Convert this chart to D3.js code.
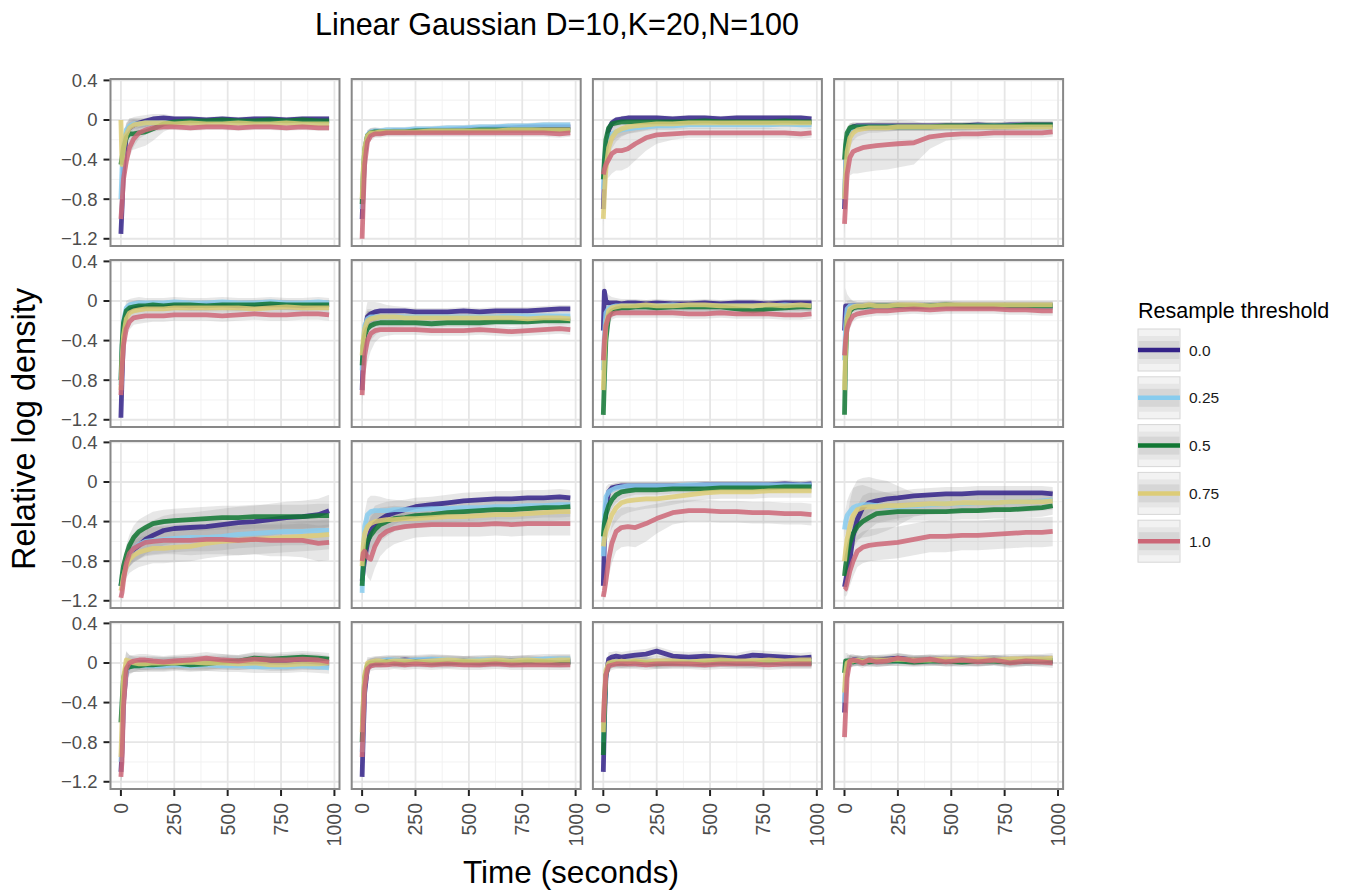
<!DOCTYPE html>
<html>
<head>
<meta charset="utf-8">
<script src="https://cdn.jsdelivr.net/npm/d3@7/dist/d3.min.js"></script>
<style>
  html, body { margin: 0; padding: 0; background: #ffffff; }
  svg { display: block; }
  text { font-family: "Liberation Sans", Arial, Helvetica, sans-serif; }
</style>
</head>
<body>
<svg id="chart" width="1345" height="895"></svg>
<script>
// Sample times (seconds) shared by every run
const times = [0, 5, 12, 25, 40, 60, 85, 115, 150, 200, 250, 325, 400, 475, 550, 625, 700, 775, 850, 925, 975];

// Resample thresholds, one series each
const thresholds = ["0.0", "0.25", "0.5", "0.75", "1.0"];

const yTicks = [0.4, 0, -0.4, -0.8, -1.2];
const xTicks = [0, 250, 500, 750, 1000];

// Mean relative log density per threshold (rows), one array per facet
const meanR1C1 = [
  [-1.15, -0.90, -0.50, -0.15, -0.08, -0.05, -0.03, -0.01, 0.01, 0.02, 0.01, 0.01, 0.00, 0.01, 0.00, 0.01, 0.01, 0.00, 0.01, 0.01, 0.01],
  [-0.80, -0.50, -0.25, -0.10, -0.06, -0.04, -0.04, -0.03, -0.03, -0.03, -0.03, -0.02, -0.03, -0.03, -0.02, -0.03, -0.03, -0.02, -0.03, -0.03, -0.04],
  [-0.45, -0.38, -0.28, -0.18, -0.14, -0.14, -0.13, -0.12, -0.09, -0.04, -0.02, -0.01, -0.01, 0.00, -0.01, -0.01, 0.00, -0.01, 0.00, -0.01, -0.01],
  [0.00, -0.45, -0.30, -0.15, -0.08, -0.05, -0.04, -0.03, -0.03, -0.03, -0.04, -0.03, -0.04, -0.04, -0.03, -0.04, -0.04, -0.03, -0.04, -0.04, -0.04],
  [-1.00, -0.85, -0.60, -0.42, -0.28, -0.19, -0.13, -0.10, -0.08, -0.07, -0.07, -0.08, -0.07, -0.07, -0.08, -0.07, -0.07, -0.08, -0.07, -0.08, -0.08]
];
const bandR1C1 = [
  [0.06, 0.08, 0.10, 0.10, 0.09, 0.08, 0.07, 0.06, 0.05, 0.04, 0.03, 0.03, 0.03, 0.03, 0.03, 0.03, 0.03, 0.03, 0.03, 0.03, 0.03],
  [0.05, 0.06, 0.07, 0.07, 0.06, 0.05, 0.04, 0.04, 0.03, 0.03, 0.03, 0.03, 0.03, 0.03, 0.03, 0.03, 0.03, 0.03, 0.03, 0.03, 0.03],
  [0.08, 0.10, 0.13, 0.15, 0.16, 0.16, 0.15, 0.14, 0.12, 0.08, 0.05, 0.03, 0.03, 0.03, 0.03, 0.03, 0.03, 0.03, 0.03, 0.03, 0.03],
  [0.05, 0.06, 0.07, 0.07, 0.06, 0.05, 0.04, 0.04, 0.03, 0.03, 0.03, 0.03, 0.03, 0.03, 0.03, 0.03, 0.03, 0.03, 0.03, 0.03, 0.03],
  [0.08, 0.10, 0.12, 0.12, 0.10, 0.08, 0.06, 0.05, 0.04, 0.03, 0.03, 0.03, 0.03, 0.03, 0.03, 0.03, 0.03, 0.03, 0.03, 0.03, 0.03]
];

const meanR1C2 = [
  [-1.00, -0.70, -0.35, -0.17, -0.13, -0.12, -0.12, -0.12, -0.11, -0.11, -0.11, -0.10, -0.10, -0.09, -0.09, -0.08, -0.08, -0.07, -0.07, -0.07, -0.07],
  [-0.90, -0.60, -0.30, -0.15, -0.12, -0.11, -0.11, -0.10, -0.10, -0.10, -0.09, -0.09, -0.08, -0.08, -0.07, -0.07, -0.06, -0.06, -0.05, -0.05, -0.05],
  [-0.85, -0.55, -0.30, -0.16, -0.13, -0.12, -0.12, -0.12, -0.12, -0.12, -0.11, -0.11, -0.11, -0.11, -0.10, -0.10, -0.10, -0.10, -0.10, -0.10, -0.10],
  [-0.80, -0.50, -0.28, -0.16, -0.13, -0.13, -0.12, -0.12, -0.12, -0.12, -0.12, -0.11, -0.11, -0.11, -0.11, -0.11, -0.10, -0.10, -0.10, -0.10, -0.10],
  [-1.20, -0.85, -0.45, -0.22, -0.16, -0.14, -0.14, -0.13, -0.13, -0.13, -0.13, -0.13, -0.13, -0.13, -0.13, -0.13, -0.13, -0.13, -0.13, -0.14, -0.13]
];
const bandR1C2 = [
  [0.06, 0.08, 0.08, 0.06, 0.05, 0.04, 0.04, 0.03, 0.03, 0.03, 0.03, 0.03, 0.03, 0.03, 0.03, 0.03, 0.03, 0.03, 0.03, 0.03, 0.03],
  [0.05, 0.06, 0.06, 0.05, 0.04, 0.04, 0.03, 0.03, 0.03, 0.03, 0.03, 0.03, 0.03, 0.03, 0.03, 0.03, 0.03, 0.03, 0.03, 0.03, 0.03],
  [0.05, 0.06, 0.06, 0.05, 0.04, 0.04, 0.03, 0.03, 0.03, 0.03, 0.03, 0.03, 0.03, 0.03, 0.03, 0.03, 0.03, 0.03, 0.03, 0.03, 0.03],
  [0.05, 0.06, 0.06, 0.05, 0.04, 0.04, 0.03, 0.03, 0.03, 0.03, 0.03, 0.03, 0.03, 0.03, 0.03, 0.03, 0.03, 0.03, 0.03, 0.03, 0.03],
  [0.06, 0.08, 0.08, 0.06, 0.05, 0.04, 0.04, 0.04, 0.04, 0.04, 0.04, 0.04, 0.04, 0.04, 0.04, 0.04, 0.04, 0.04, 0.04, 0.04, 0.04]
];

const meanR1C3 = [
  [-0.90, -0.60, -0.30, -0.10, -0.03, 0.00, 0.01, 0.02, 0.02, 0.02, 0.02, 0.01, 0.02, 0.02, 0.01, 0.02, 0.02, 0.02, 0.02, 0.02, 0.01],
  [-0.70, -0.45, -0.25, -0.16, -0.14, -0.12, -0.10, -0.09, -0.08, -0.07, -0.06, -0.06, -0.05, -0.05, -0.05, -0.05, -0.05, -0.05, -0.04, -0.05, -0.05],
  [-0.60, -0.40, -0.20, -0.08, -0.04, -0.03, -0.02, -0.02, -0.02, -0.02, -0.02, -0.02, -0.02, -0.01, -0.02, -0.02, -0.02, -0.02, -0.01, -0.02, -0.02],
  [-1.00, -0.75, -0.50, -0.28, -0.18, -0.12, -0.09, -0.07, -0.06, -0.05, -0.04, -0.04, -0.03, -0.03, -0.03, -0.03, -0.03, -0.03, -0.03, -0.03, -0.03],
  [-0.55, -0.50, -0.45, -0.40, -0.34, -0.31, -0.31, -0.29, -0.24, -0.18, -0.15, -0.14, -0.13, -0.13, -0.13, -0.13, -0.13, -0.13, -0.13, -0.14, -0.13]
];
const bandR1C3 = [
  [0.05, 0.06, 0.06, 0.05, 0.04, 0.03, 0.03, 0.03, 0.03, 0.03, 0.03, 0.03, 0.03, 0.03, 0.03, 0.03, 0.03, 0.03, 0.03, 0.03, 0.03],
  [0.06, 0.08, 0.09, 0.09, 0.08, 0.07, 0.06, 0.05, 0.05, 0.04, 0.04, 0.04, 0.04, 0.04, 0.04, 0.04, 0.04, 0.04, 0.04, 0.04, 0.04],
  [0.05, 0.06, 0.06, 0.05, 0.04, 0.03, 0.03, 0.03, 0.03, 0.03, 0.03, 0.03, 0.03, 0.03, 0.03, 0.03, 0.03, 0.03, 0.03, 0.03, 0.03],
  [0.08, 0.10, 0.12, 0.12, 0.11, 0.10, 0.08, 0.07, 0.06, 0.05, 0.04, 0.04, 0.04, 0.04, 0.04, 0.04, 0.04, 0.04, 0.04, 0.04, 0.04],
  [0.10, 0.12, 0.15, 0.18, 0.20, 0.20, 0.20, 0.19, 0.17, 0.13, 0.09, 0.06, 0.05, 0.05, 0.05, 0.05, 0.05, 0.05, 0.05, 0.05, 0.05]
];

const meanR1C4 = [
  [-0.90, -0.50, -0.20, -0.10, -0.07, -0.06, -0.06, -0.06, -0.06, -0.06, -0.06, -0.06, -0.06, -0.06, -0.06, -0.05, -0.06, -0.05, -0.05, -0.05, -0.05],
  [-0.80, -0.45, -0.20, -0.10, -0.08, -0.07, -0.07, -0.07, -0.07, -0.07, -0.07, -0.07, -0.07, -0.07, -0.07, -0.06, -0.06, -0.06, -0.06, -0.06, -0.06],
  [-0.40, -0.25, -0.13, -0.08, -0.07, -0.07, -0.07, -0.07, -0.07, -0.07, -0.07, -0.07, -0.07, -0.06, -0.06, -0.06, -0.06, -0.06, -0.05, -0.05, -0.05],
  [-0.80, -0.55, -0.32, -0.18, -0.13, -0.10, -0.09, -0.08, -0.08, -0.08, -0.07, -0.07, -0.07, -0.07, -0.07, -0.07, -0.07, -0.07, -0.07, -0.07, -0.07],
  [-1.05, -0.85, -0.55, -0.38, -0.32, -0.30, -0.28, -0.27, -0.26, -0.25, -0.24, -0.23, -0.17, -0.15, -0.14, -0.14, -0.13, -0.13, -0.13, -0.13, -0.12]
];
const bandR1C4 = [
  [0.06, 0.08, 0.08, 0.06, 0.05, 0.04, 0.04, 0.04, 0.04, 0.04, 0.04, 0.04, 0.04, 0.04, 0.04, 0.04, 0.04, 0.04, 0.04, 0.04, 0.04],
  [0.06, 0.08, 0.08, 0.06, 0.05, 0.04, 0.04, 0.04, 0.04, 0.04, 0.04, 0.04, 0.04, 0.04, 0.04, 0.04, 0.04, 0.04, 0.04, 0.04, 0.04],
  [0.05, 0.06, 0.06, 0.05, 0.04, 0.04, 0.04, 0.04, 0.04, 0.04, 0.04, 0.04, 0.04, 0.04, 0.04, 0.04, 0.04, 0.04, 0.04, 0.04, 0.04],
  [0.08, 0.10, 0.12, 0.10, 0.08, 0.07, 0.06, 0.05, 0.05, 0.04, 0.04, 0.04, 0.04, 0.04, 0.04, 0.04, 0.04, 0.04, 0.04, 0.04, 0.04],
  [0.10, 0.12, 0.15, 0.18, 0.22, 0.24, 0.25, 0.25, 0.25, 0.25, 0.24, 0.22, 0.12, 0.06, 0.05, 0.05, 0.05, 0.05, 0.05, 0.05, 0.05]
];

const meanR2C1 = [
  [-1.18, -0.80, -0.35, -0.12, -0.08, -0.06, -0.05, -0.05, -0.05, -0.05, -0.04, -0.05, -0.04, -0.04, -0.05, -0.04, -0.04, -0.04, -0.05, -0.04, -0.04],
  [-0.85, -0.50, -0.20, -0.07, -0.04, -0.03, -0.02, -0.02, -0.02, -0.02, -0.01, -0.02, -0.02, -0.01, -0.02, -0.02, -0.01, -0.02, -0.02, -0.01, -0.02],
  [-0.80, -0.45, -0.22, -0.10, -0.07, -0.06, -0.05, -0.05, -0.04, -0.05, -0.04, -0.04, -0.05, -0.04, -0.04, -0.04, -0.03, -0.04, -0.04, -0.04, -0.04],
  [-0.90, -0.60, -0.35, -0.18, -0.12, -0.10, -0.09, -0.08, -0.08, -0.08, -0.07, -0.07, -0.07, -0.07, -0.07, -0.08, -0.07, -0.06, -0.07, -0.07, -0.07],
  [-0.95, -0.70, -0.45, -0.28, -0.21, -0.17, -0.16, -0.15, -0.15, -0.15, -0.14, -0.14, -0.14, -0.15, -0.14, -0.13, -0.14, -0.14, -0.13, -0.13, -0.14]
];
const bandR2C1 = [
  [0.06, 0.08, 0.08, 0.07, 0.06, 0.06, 0.06, 0.05, 0.05, 0.05, 0.05, 0.05, 0.05, 0.05, 0.05, 0.05, 0.05, 0.05, 0.05, 0.05, 0.05],
  [0.06, 0.08, 0.08, 0.07, 0.06, 0.06, 0.06, 0.05, 0.05, 0.05, 0.05, 0.05, 0.05, 0.05, 0.05, 0.05, 0.05, 0.05, 0.05, 0.05, 0.05],
  [0.06, 0.08, 0.08, 0.07, 0.06, 0.06, 0.06, 0.05, 0.05, 0.05, 0.05, 0.05, 0.05, 0.05, 0.05, 0.05, 0.05, 0.05, 0.05, 0.05, 0.05],
  [0.06, 0.08, 0.08, 0.07, 0.06, 0.06, 0.06, 0.05, 0.05, 0.05, 0.05, 0.05, 0.05, 0.05, 0.05, 0.05, 0.05, 0.05, 0.05, 0.05, 0.05],
  [0.08, 0.10, 0.10, 0.09, 0.08, 0.07, 0.07, 0.07, 0.06, 0.06, 0.06, 0.06, 0.06, 0.06, 0.06, 0.06, 0.06, 0.06, 0.06, 0.06, 0.06]
];

const meanR2C2 = [
  [-0.90, -0.60, -0.30, -0.16, -0.13, -0.11, -0.10, -0.10, -0.10, -0.10, -0.11, -0.11, -0.11, -0.10, -0.11, -0.10, -0.10, -0.10, -0.09, -0.08, -0.08],
  [-0.70, -0.45, -0.25, -0.18, -0.16, -0.16, -0.16, -0.16, -0.16, -0.16, -0.16, -0.16, -0.16, -0.16, -0.16, -0.16, -0.15, -0.15, -0.15, -0.15, -0.15],
  [-0.65, -0.45, -0.35, -0.28, -0.25, -0.23, -0.22, -0.22, -0.22, -0.22, -0.22, -0.23, -0.22, -0.22, -0.22, -0.21, -0.21, -0.21, -0.20, -0.20, -0.20],
  [-0.55, -0.40, -0.28, -0.20, -0.18, -0.17, -0.16, -0.16, -0.16, -0.17, -0.17, -0.17, -0.17, -0.17, -0.17, -0.17, -0.17, -0.18, -0.17, -0.17, -0.18],
  [-0.95, -0.75, -0.55, -0.40, -0.33, -0.30, -0.29, -0.29, -0.29, -0.29, -0.29, -0.30, -0.30, -0.30, -0.29, -0.30, -0.31, -0.30, -0.29, -0.28, -0.29]
];
const bandR2C2 = [
  [0.08, 0.12, 0.15, 0.15, 0.12, 0.10, 0.08, 0.06, 0.05, 0.04, 0.04, 0.04, 0.04, 0.04, 0.04, 0.04, 0.04, 0.04, 0.04, 0.04, 0.04],
  [0.06, 0.08, 0.10, 0.10, 0.08, 0.06, 0.05, 0.04, 0.04, 0.04, 0.04, 0.04, 0.04, 0.04, 0.04, 0.04, 0.04, 0.04, 0.04, 0.04, 0.04],
  [0.08, 0.12, 0.15, 0.18, 0.15, 0.12, 0.08, 0.06, 0.05, 0.04, 0.04, 0.04, 0.04, 0.04, 0.04, 0.04, 0.04, 0.04, 0.04, 0.04, 0.04],
  [0.06, 0.08, 0.10, 0.10, 0.08, 0.06, 0.05, 0.04, 0.04, 0.04, 0.04, 0.04, 0.04, 0.04, 0.04, 0.04, 0.04, 0.04, 0.04, 0.04, 0.04],
  [0.10, 0.15, 0.20, 0.22, 0.18, 0.12, 0.08, 0.06, 0.05, 0.05, 0.05, 0.05, 0.05, 0.05, 0.05, 0.05, 0.05, 0.05, 0.05, 0.05, 0.05]
];

const meanR2C3 = [
  [-0.30, 0.10, 0.00, -0.02, -0.02, -0.02, -0.03, -0.02, -0.02, -0.03, -0.02, -0.03, -0.03, -0.02, -0.03, -0.02, -0.02, -0.03, -0.02, -0.02, -0.02],
  [-0.70, -0.35, -0.12, -0.07, -0.06, -0.05, -0.05, -0.05, -0.05, -0.05, -0.05, -0.04, -0.05, -0.05, -0.05, -0.05, -0.05, -0.05, -0.04, -0.05, -0.05],
  [-1.15, -0.80, -0.40, -0.15, -0.10, -0.08, -0.07, -0.07, -0.06, -0.06, -0.07, -0.06, -0.06, -0.06, -0.06, -0.08, -0.10, -0.08, -0.07, -0.06, -0.06],
  [-0.90, -0.55, -0.25, -0.10, -0.07, -0.06, -0.05, -0.05, -0.05, -0.04, -0.05, -0.05, -0.04, -0.04, -0.05, -0.05, -0.05, -0.04, -0.05, -0.04, -0.05],
  [-0.60, -0.40, -0.25, -0.16, -0.13, -0.12, -0.12, -0.12, -0.12, -0.12, -0.12, -0.12, -0.13, -0.13, -0.12, -0.13, -0.13, -0.13, -0.14, -0.14, -0.13]
];
const bandR2C3 = [
  [0.10, 0.12, 0.10, 0.08, 0.06, 0.05, 0.05, 0.04, 0.04, 0.04, 0.04, 0.04, 0.04, 0.04, 0.04, 0.04, 0.04, 0.04, 0.04, 0.04, 0.04],
  [0.06, 0.08, 0.08, 0.06, 0.05, 0.05, 0.05, 0.05, 0.05, 0.05, 0.05, 0.05, 0.05, 0.05, 0.05, 0.05, 0.05, 0.05, 0.05, 0.05, 0.05],
  [0.08, 0.10, 0.10, 0.08, 0.07, 0.06, 0.05, 0.05, 0.05, 0.05, 0.05, 0.05, 0.05, 0.05, 0.05, 0.05, 0.05, 0.05, 0.05, 0.05, 0.05],
  [0.06, 0.08, 0.08, 0.06, 0.05, 0.05, 0.05, 0.05, 0.05, 0.05, 0.05, 0.05, 0.05, 0.05, 0.05, 0.05, 0.05, 0.05, 0.05, 0.05, 0.05],
  [0.08, 0.10, 0.10, 0.08, 0.06, 0.05, 0.05, 0.05, 0.05, 0.05, 0.05, 0.05, 0.05, 0.05, 0.05, 0.05, 0.05, 0.05, 0.05, 0.05, 0.05]
];

const meanR2C4 = [
  [-0.30, -0.05, -0.05, -0.05, -0.05, -0.05, -0.05, -0.05, -0.05, -0.05, -0.05, -0.06, -0.05, -0.05, -0.05, -0.05, -0.05, -0.05, -0.05, -0.05, -0.05],
  [-0.60, -0.25, -0.08, -0.05, -0.05, -0.05, -0.05, -0.05, -0.05, -0.05, -0.05, -0.05, -0.05, -0.05, -0.05, -0.05, -0.05, -0.05, -0.05, -0.05, -0.05],
  [-1.15, -0.60, -0.20, -0.10, -0.07, -0.06, -0.06, -0.05, -0.05, -0.05, -0.05, -0.05, -0.05, -0.04, -0.05, -0.05, -0.05, -0.05, -0.05, -0.05, -0.05],
  [-0.90, -0.50, -0.18, -0.08, -0.06, -0.05, -0.05, -0.04, -0.05, -0.05, -0.04, -0.04, -0.05, -0.04, -0.04, -0.04, -0.04, -0.04, -0.04, -0.04, -0.04],
  [-0.55, -0.40, -0.28, -0.20, -0.15, -0.13, -0.12, -0.11, -0.10, -0.10, -0.09, -0.08, -0.09, -0.08, -0.08, -0.08, -0.08, -0.09, -0.09, -0.10, -0.10]
];
const bandR2C4 = [
  [0.15, 0.18, 0.12, 0.08, 0.05, 0.04, 0.04, 0.04, 0.04, 0.04, 0.04, 0.04, 0.04, 0.04, 0.04, 0.04, 0.04, 0.04, 0.04, 0.04, 0.04],
  [0.06, 0.08, 0.08, 0.06, 0.05, 0.04, 0.04, 0.04, 0.04, 0.04, 0.04, 0.04, 0.04, 0.04, 0.04, 0.04, 0.04, 0.04, 0.04, 0.04, 0.04],
  [0.10, 0.12, 0.10, 0.06, 0.05, 0.04, 0.04, 0.04, 0.04, 0.04, 0.04, 0.04, 0.04, 0.04, 0.04, 0.04, 0.04, 0.04, 0.04, 0.04, 0.04],
  [0.06, 0.08, 0.08, 0.06, 0.05, 0.04, 0.04, 0.04, 0.04, 0.04, 0.04, 0.04, 0.04, 0.04, 0.04, 0.04, 0.04, 0.04, 0.04, 0.04, 0.04],
  [0.08, 0.10, 0.10, 0.08, 0.06, 0.05, 0.05, 0.05, 0.05, 0.05, 0.05, 0.05, 0.05, 0.05, 0.05, 0.05, 0.05, 0.05, 0.05, 0.05, 0.05]
];

const meanR3C1 = [
  [-1.05, -1.00, -0.92, -0.82, -0.74, -0.68, -0.64, -0.58, -0.54, -0.49, -0.47, -0.46, -0.45, -0.43, -0.41, -0.40, -0.38, -0.36, -0.35, -0.33, -0.29],
  [-1.05, -0.98, -0.90, -0.80, -0.73, -0.67, -0.63, -0.60, -0.59, -0.58, -0.57, -0.56, -0.56, -0.55, -0.53, -0.52, -0.51, -0.50, -0.50, -0.49, -0.49],
  [-1.05, -0.95, -0.85, -0.74, -0.64, -0.56, -0.50, -0.46, -0.42, -0.40, -0.39, -0.38, -0.37, -0.36, -0.36, -0.35, -0.35, -0.35, -0.35, -0.34, -0.34],
  [-1.10, -1.05, -0.95, -0.85, -0.78, -0.74, -0.71, -0.69, -0.67, -0.67, -0.66, -0.65, -0.62, -0.60, -0.59, -0.58, -0.57, -0.56, -0.55, -0.54, -0.53],
  [-1.17, -1.12, -1.00, -0.82, -0.72, -0.67, -0.64, -0.61, -0.60, -0.59, -0.59, -0.59, -0.58, -0.58, -0.59, -0.58, -0.59, -0.59, -0.59, -0.62, -0.61]
];
const bandR3C1 = [
  [0.05, 0.06, 0.08, 0.10, 0.12, 0.13, 0.14, 0.15, 0.15, 0.15, 0.15, 0.15, 0.16, 0.16, 0.16, 0.16, 0.16, 0.16, 0.16, 0.16, 0.16],
  [0.05, 0.06, 0.08, 0.10, 0.12, 0.13, 0.14, 0.14, 0.14, 0.14, 0.14, 0.14, 0.14, 0.14, 0.14, 0.14, 0.14, 0.14, 0.14, 0.14, 0.14],
  [0.05, 0.06, 0.08, 0.10, 0.11, 0.12, 0.12, 0.12, 0.12, 0.12, 0.12, 0.12, 0.12, 0.12, 0.12, 0.12, 0.12, 0.12, 0.12, 0.12, 0.12],
  [0.06, 0.08, 0.10, 0.12, 0.14, 0.15, 0.15, 0.15, 0.15, 0.15, 0.15, 0.15, 0.15, 0.15, 0.15, 0.15, 0.15, 0.15, 0.15, 0.15, 0.15],
  [0.06, 0.08, 0.10, 0.12, 0.13, 0.14, 0.14, 0.14, 0.14, 0.14, 0.14, 0.15, 0.15, 0.15, 0.15, 0.15, 0.16, 0.16, 0.17, 0.18, 0.18]
];

const meanR3C2 = [
  [-1.00, -0.90, -0.78, -0.62, -0.50, -0.42, -0.38, -0.34, -0.31, -0.28, -0.25, -0.23, -0.21, -0.19, -0.18, -0.17, -0.17, -0.16, -0.16, -0.15, -0.16],
  [-1.12, -0.75, -0.45, -0.33, -0.30, -0.29, -0.29, -0.29, -0.28, -0.28, -0.28, -0.27, -0.27, -0.26, -0.26, -0.25, -0.25, -0.24, -0.24, -0.23, -0.23],
  [-1.05, -0.85, -0.70, -0.60, -0.54, -0.48, -0.43, -0.40, -0.37, -0.36, -0.34, -0.33, -0.31, -0.30, -0.29, -0.28, -0.28, -0.27, -0.26, -0.26, -0.25],
  [-0.85, -0.65, -0.52, -0.45, -0.42, -0.40, -0.39, -0.38, -0.38, -0.37, -0.37, -0.36, -0.35, -0.35, -0.34, -0.33, -0.33, -0.32, -0.31, -0.30, -0.30],
  [-0.80, -0.72, -0.70, -0.76, -0.78, -0.65, -0.55, -0.50, -0.47, -0.45, -0.44, -0.43, -0.43, -0.43, -0.43, -0.42, -0.43, -0.42, -0.42, -0.42, -0.42]
];
const bandR3C2 = [
  [0.06, 0.08, 0.12, 0.15, 0.18, 0.18, 0.16, 0.14, 0.12, 0.10, 0.09, 0.08, 0.08, 0.08, 0.08, 0.08, 0.08, 0.08, 0.08, 0.08, 0.08],
  [0.06, 0.10, 0.14, 0.16, 0.16, 0.15, 0.14, 0.12, 0.10, 0.09, 0.08, 0.08, 0.08, 0.08, 0.08, 0.08, 0.08, 0.08, 0.08, 0.08, 0.08],
  [0.06, 0.10, 0.14, 0.17, 0.18, 0.18, 0.17, 0.15, 0.13, 0.11, 0.10, 0.10, 0.10, 0.10, 0.10, 0.10, 0.10, 0.10, 0.10, 0.10, 0.10],
  [0.06, 0.10, 0.12, 0.14, 0.14, 0.13, 0.12, 0.11, 0.10, 0.10, 0.09, 0.09, 0.09, 0.09, 0.09, 0.09, 0.09, 0.09, 0.09, 0.09, 0.09],
  [0.08, 0.12, 0.16, 0.20, 0.22, 0.22, 0.20, 0.18, 0.16, 0.14, 0.12, 0.12, 0.12, 0.12, 0.12, 0.12, 0.12, 0.12, 0.12, 0.12, 0.12]
];

const meanR3C3 = [
  [-1.05, -0.60, -0.25, -0.10, -0.06, -0.05, -0.04, -0.04, -0.04, -0.04, -0.04, -0.04, -0.04, -0.03, -0.03, -0.03, -0.03, -0.03, -0.02, -0.03, -0.02],
  [-0.75, -0.35, -0.15, -0.10, -0.08, -0.06, -0.05, -0.04, -0.04, -0.04, -0.04, -0.04, -0.03, -0.03, -0.03, -0.03, -0.03, -0.03, -0.03, -0.03, -0.03],
  [-0.55, -0.42, -0.33, -0.24, -0.18, -0.13, -0.10, -0.09, -0.08, -0.08, -0.08, -0.07, -0.07, -0.07, -0.06, -0.06, -0.06, -0.06, -0.05, -0.05, -0.05],
  [-0.65, -0.58, -0.50, -0.42, -0.33, -0.26, -0.21, -0.19, -0.18, -0.17, -0.17, -0.15, -0.13, -0.11, -0.10, -0.10, -0.10, -0.09, -0.09, -0.09, -0.09],
  [-1.16, -1.10, -1.00, -0.78, -0.62, -0.50, -0.46, -0.45, -0.46, -0.42, -0.37, -0.31, -0.29, -0.29, -0.30, -0.30, -0.31, -0.31, -0.32, -0.32, -0.33]
];
const bandR3C3 = [
  [0.05, 0.06, 0.06, 0.05, 0.04, 0.04, 0.04, 0.04, 0.04, 0.04, 0.04, 0.04, 0.04, 0.04, 0.04, 0.04, 0.04, 0.04, 0.04, 0.04, 0.04],
  [0.08, 0.10, 0.10, 0.08, 0.06, 0.05, 0.05, 0.04, 0.04, 0.04, 0.04, 0.04, 0.04, 0.04, 0.04, 0.04, 0.04, 0.04, 0.04, 0.04, 0.04],
  [0.06, 0.08, 0.10, 0.10, 0.09, 0.08, 0.07, 0.06, 0.05, 0.05, 0.05, 0.05, 0.05, 0.05, 0.05, 0.05, 0.05, 0.05, 0.05, 0.05, 0.05],
  [0.08, 0.10, 0.12, 0.14, 0.14, 0.14, 0.13, 0.12, 0.11, 0.10, 0.09, 0.08, 0.07, 0.07, 0.07, 0.07, 0.07, 0.07, 0.07, 0.07, 0.07],
  [0.05, 0.08, 0.12, 0.18, 0.20, 0.20, 0.20, 0.20, 0.20, 0.18, 0.15, 0.12, 0.11, 0.11, 0.11, 0.11, 0.11, 0.11, 0.11, 0.11, 0.11]
];

const meanR3C4 = [
  [-1.06, -1.00, -0.92, -0.79, -0.55, -0.38, -0.26, -0.21, -0.19, -0.17, -0.16, -0.14, -0.13, -0.12, -0.12, -0.11, -0.11, -0.11, -0.11, -0.11, -0.12],
  [-0.48, -0.40, -0.34, -0.30, -0.26, -0.24, -0.23, -0.23, -0.24, -0.25, -0.25, -0.24, -0.23, -0.22, -0.22, -0.21, -0.21, -0.20, -0.20, -0.19, -0.18],
  [-0.95, -0.85, -0.75, -0.62, -0.52, -0.45, -0.40, -0.36, -0.32, -0.31, -0.30, -0.30, -0.30, -0.30, -0.29, -0.29, -0.28, -0.28, -0.27, -0.26, -0.24],
  [-0.80, -0.70, -0.58, -0.45, -0.34, -0.28, -0.26, -0.25, -0.25, -0.24, -0.24, -0.23, -0.22, -0.22, -0.21, -0.21, -0.21, -0.20, -0.20, -0.20, -0.19],
  [-1.09, -1.08, -1.02, -0.90, -0.80, -0.70, -0.66, -0.64, -0.63, -0.62, -0.61, -0.58, -0.55, -0.55, -0.54, -0.54, -0.53, -0.52, -0.51, -0.51, -0.50]
];
const bandR3C4 = [
  [0.06, 0.08, 0.10, 0.12, 0.14, 0.14, 0.12, 0.10, 0.08, 0.07, 0.07, 0.07, 0.07, 0.07, 0.07, 0.07, 0.07, 0.07, 0.07, 0.07, 0.07],
  [0.08, 0.12, 0.15, 0.18, 0.20, 0.20, 0.20, 0.18, 0.16, 0.14, 0.12, 0.10, 0.10, 0.10, 0.10, 0.10, 0.10, 0.10, 0.10, 0.10, 0.10],
  [0.06, 0.10, 0.12, 0.14, 0.15, 0.15, 0.14, 0.12, 0.10, 0.09, 0.09, 0.09, 0.09, 0.09, 0.09, 0.09, 0.09, 0.09, 0.09, 0.09, 0.09],
  [0.10, 0.15, 0.20, 0.25, 0.28, 0.30, 0.30, 0.30, 0.28, 0.25, 0.20, 0.12, 0.10, 0.08, 0.08, 0.08, 0.08, 0.08, 0.08, 0.08, 0.08],
  [0.06, 0.08, 0.12, 0.15, 0.16, 0.16, 0.16, 0.16, 0.16, 0.16, 0.16, 0.16, 0.16, 0.16, 0.15, 0.15, 0.15, 0.15, 0.15, 0.15, 0.15]
];

const meanR4C1 = [
  [-1.10, -0.90, -0.40, -0.08, -0.02, -0.01, 0.00, 0.00, 0.00, -0.01, 0.00, 0.00, 0.00, 0.01, 0.00, 0.01, 0.01, 0.00, 0.01, 0.00, 0.00],
  [-1.00, -0.80, -0.35, -0.08, -0.03, -0.03, -0.03, -0.03, -0.03, -0.03, -0.02, -0.03, -0.02, -0.03, -0.03, -0.04, -0.04, -0.04, -0.03, -0.04, -0.05],
  [-0.60, -0.40, -0.15, -0.05, -0.04, -0.03, -0.03, -0.02, -0.02, -0.01, 0.00, -0.02, -0.01, 0.01, 0.02, 0.05, 0.04, 0.05, 0.06, 0.05, 0.04],
  [-0.95, -0.60, -0.15, 0.03, 0.02, 0.00, -0.01, -0.01, 0.00, 0.00, 0.00, 0.01, 0.00, 0.00, -0.01, 0.00, -0.02, -0.02, -0.01, -0.01, 0.00],
  [-1.15, -1.00, -0.45, -0.06, 0.00, 0.02, 0.03, 0.03, 0.02, 0.01, 0.02, 0.03, 0.05, 0.03, 0.02, 0.04, 0.03, 0.03, 0.04, 0.03, 0.01]
];
const bandR4C1 = [
  [0.10, 0.25, 0.30, 0.20, 0.10, 0.08, 0.07, 0.07, 0.07, 0.07, 0.07, 0.07, 0.08, 0.08, 0.07, 0.07, 0.07, 0.07, 0.07, 0.07, 0.06],
  [0.08, 0.15, 0.15, 0.10, 0.07, 0.06, 0.06, 0.06, 0.06, 0.06, 0.06, 0.06, 0.06, 0.06, 0.06, 0.06, 0.06, 0.06, 0.06, 0.06, 0.06],
  [0.06, 0.10, 0.12, 0.08, 0.06, 0.06, 0.06, 0.06, 0.06, 0.06, 0.06, 0.06, 0.06, 0.06, 0.06, 0.06, 0.06, 0.06, 0.06, 0.06, 0.06],
  [0.06, 0.10, 0.12, 0.08, 0.06, 0.06, 0.06, 0.06, 0.06, 0.06, 0.06, 0.06, 0.06, 0.06, 0.06, 0.06, 0.06, 0.06, 0.06, 0.06, 0.06],
  [0.08, 0.12, 0.15, 0.10, 0.07, 0.06, 0.06, 0.06, 0.06, 0.06, 0.06, 0.06, 0.06, 0.06, 0.06, 0.06, 0.06, 0.06, 0.06, 0.06, 0.06]
];

const meanR4C2 = [
  [-1.15, -0.75, -0.30, -0.05, -0.01, 0.01, 0.01, 0.02, 0.02, 0.03, 0.02, 0.03, 0.02, 0.02, 0.01, 0.02, 0.02, 0.02, 0.01, 0.02, 0.02],
  [-0.90, -0.55, -0.20, -0.03, 0.00, 0.01, 0.02, 0.03, 0.03, 0.02, 0.03, 0.04, 0.03, 0.02, 0.03, 0.03, 0.02, 0.03, 0.04, 0.04, 0.04],
  [-0.80, -0.45, -0.15, -0.02, 0.00, 0.00, 0.00, 0.01, 0.00, 0.00, 0.01, 0.00, 0.00, 0.01, 0.00, 0.01, 0.00, 0.01, 0.01, 0.00, 0.01],
  [-0.70, -0.40, -0.12, 0.00, 0.01, 0.02, 0.02, 0.01, 0.02, 0.02, 0.01, 0.02, 0.03, 0.02, 0.02, 0.03, 0.02, 0.03, 0.02, 0.03, 0.03],
  [-0.95, -0.60, -0.25, -0.06, -0.03, -0.02, -0.02, -0.02, -0.01, -0.02, -0.01, -0.02, -0.01, -0.02, -0.02, -0.01, -0.02, -0.02, -0.02, -0.02, -0.02]
];
const bandR4C2 = [
  [0.08, 0.10, 0.10, 0.07, 0.05, 0.05, 0.05, 0.05, 0.05, 0.05, 0.05, 0.05, 0.05, 0.05, 0.05, 0.05, 0.05, 0.05, 0.05, 0.05, 0.05],
  [0.06, 0.08, 0.08, 0.06, 0.05, 0.05, 0.05, 0.05, 0.05, 0.05, 0.05, 0.05, 0.05, 0.05, 0.05, 0.05, 0.05, 0.05, 0.05, 0.05, 0.05],
  [0.06, 0.08, 0.08, 0.06, 0.05, 0.05, 0.05, 0.05, 0.05, 0.05, 0.05, 0.05, 0.05, 0.05, 0.05, 0.05, 0.05, 0.05, 0.05, 0.05, 0.05],
  [0.06, 0.08, 0.08, 0.06, 0.05, 0.05, 0.05, 0.05, 0.05, 0.05, 0.05, 0.05, 0.05, 0.05, 0.05, 0.05, 0.05, 0.05, 0.05, 0.05, 0.05],
  [0.08, 0.10, 0.10, 0.07, 0.05, 0.05, 0.05, 0.05, 0.05, 0.05, 0.05, 0.05, 0.05, 0.05, 0.05, 0.05, 0.05, 0.05, 0.05, 0.05, 0.05]
];

const meanR4C3 = [
  [-1.10, -0.60, -0.15, 0.04, 0.06, 0.07, 0.06, 0.07, 0.08, 0.09, 0.12, 0.07, 0.06, 0.07, 0.06, 0.05, 0.08, 0.07, 0.06, 0.05, 0.06],
  [-0.80, -0.45, -0.12, -0.02, 0.00, 0.01, 0.00, 0.01, 0.00, 0.01, 0.00, 0.01, 0.01, 0.00, 0.01, 0.01, 0.00, 0.01, 0.01, 0.01, 0.01],
  [-0.93, -0.50, -0.12, -0.02, 0.00, 0.00, 0.00, 0.00, 0.01, 0.00, -0.01, 0.00, 0.00, 0.00, 0.01, 0.00, 0.00, 0.01, 0.00, 0.00, 0.00],
  [-0.70, -0.35, -0.08, 0.00, 0.01, 0.01, 0.02, 0.01, 0.02, 0.01, 0.02, 0.02, 0.01, 0.02, 0.03, 0.02, 0.02, 0.03, 0.02, 0.03, 0.03],
  [-0.60, -0.35, -0.12, -0.03, -0.02, -0.01, -0.01, -0.01, -0.01, -0.02, -0.01, -0.01, -0.01, -0.02, -0.01, -0.01, -0.01, -0.02, -0.01, -0.01, -0.01]
];
const bandR4C3 = [
  [0.08, 0.10, 0.10, 0.07, 0.05, 0.05, 0.05, 0.05, 0.05, 0.05, 0.05, 0.05, 0.05, 0.05, 0.05, 0.05, 0.05, 0.05, 0.05, 0.05, 0.05],
  [0.06, 0.08, 0.08, 0.06, 0.05, 0.05, 0.05, 0.05, 0.05, 0.05, 0.05, 0.05, 0.05, 0.05, 0.05, 0.05, 0.05, 0.05, 0.05, 0.05, 0.05],
  [0.08, 0.10, 0.10, 0.07, 0.05, 0.05, 0.05, 0.05, 0.05, 0.05, 0.05, 0.05, 0.05, 0.05, 0.05, 0.05, 0.05, 0.05, 0.05, 0.05, 0.05],
  [0.06, 0.08, 0.08, 0.06, 0.05, 0.05, 0.05, 0.05, 0.05, 0.05, 0.05, 0.05, 0.05, 0.05, 0.05, 0.05, 0.05, 0.05, 0.05, 0.05, 0.05],
  [0.06, 0.08, 0.08, 0.06, 0.05, 0.05, 0.05, 0.05, 0.05, 0.05, 0.05, 0.05, 0.05, 0.05, 0.05, 0.05, 0.05, 0.05, 0.05, 0.05, 0.05]
];

const meanR4C4 = [
  [-0.50, -0.20, -0.05, 0.02, 0.03, 0.03, 0.02, 0.03, 0.03, 0.04, 0.05, 0.03, 0.03, 0.02, 0.03, 0.02, 0.03, 0.02, 0.02, 0.03, 0.02],
  [-0.40, -0.15, -0.03, 0.01, 0.02, 0.02, 0.02, 0.02, 0.01, 0.02, 0.02, 0.02, 0.02, 0.03, 0.02, 0.02, 0.03, 0.02, 0.03, 0.03, 0.03],
  [-0.10, 0.02, 0.02, 0.02, 0.01, 0.02, 0.02, 0.01, 0.02, 0.02, 0.02, 0.01, 0.02, 0.02, 0.01, 0.02, 0.02, 0.01, 0.02, 0.02, 0.02],
  [-0.30, -0.10, 0.00, 0.02, 0.02, 0.03, 0.02, 0.03, 0.03, 0.03, 0.04, 0.03, 0.03, 0.04, 0.03, 0.04, 0.03, 0.04, 0.04, 0.04, 0.05],
  [-0.75, -0.50, -0.15, 0.02, 0.03, 0.02, 0.00, 0.03, 0.01, 0.02, 0.05, 0.02, 0.04, 0.01, 0.03, 0.01, 0.03, 0.00, 0.02, 0.01, 0.00]
];
const bandR4C4 = [
  [0.06, 0.08, 0.08, 0.06, 0.05, 0.05, 0.05, 0.05, 0.05, 0.05, 0.05, 0.05, 0.05, 0.05, 0.05, 0.05, 0.05, 0.05, 0.05, 0.05, 0.05],
  [0.06, 0.08, 0.08, 0.06, 0.05, 0.05, 0.05, 0.05, 0.05, 0.05, 0.05, 0.05, 0.05, 0.05, 0.05, 0.05, 0.05, 0.05, 0.05, 0.05, 0.05],
  [0.06, 0.08, 0.08, 0.06, 0.05, 0.05, 0.05, 0.05, 0.05, 0.05, 0.05, 0.05, 0.05, 0.05, 0.05, 0.05, 0.05, 0.05, 0.05, 0.05, 0.05],
  [0.06, 0.08, 0.08, 0.06, 0.05, 0.05, 0.05, 0.05, 0.05, 0.05, 0.05, 0.05, 0.05, 0.05, 0.05, 0.05, 0.05, 0.05, 0.05, 0.05, 0.05],
  [0.08, 0.10, 0.10, 0.07, 0.06, 0.05, 0.05, 0.05, 0.05, 0.05, 0.05, 0.05, 0.05, 0.05, 0.05, 0.05, 0.05, 0.05, 0.05, 0.05, 0.05]
];

// Facets in reading order (row by row)
const facets = [
  [meanR1C1, bandR1C1], [meanR1C2, bandR1C2], [meanR1C3, bandR1C3], [meanR1C4, bandR1C4],
  [meanR2C1, bandR2C1], [meanR2C2, bandR2C2], [meanR2C3, bandR2C3], [meanR2C4, bandR2C4],
  [meanR3C1, bandR3C1], [meanR3C2, bandR3C2], [meanR3C3, bandR3C3], [meanR3C4, bandR3C4],
  [meanR4C1, bandR4C1], [meanR4C2, bandR4C2], [meanR4C3, bandR4C3], [meanR4C4, bandR4C4]
];

// ---- layout ----
const panelW = 229, panelH = 167;
const colX = [110.5, 351.7, 592.9, 834.1];
const rowY = [79, 260, 441, 622];
const seriesColors = ["#332288", "#88ccee", "#117733", "#ddcc77", "#cc6677"];

const svg = d3.select("#chart");

const x = d3.scaleLinear().domain([-48.75, 1023.75]).range([0, panelW]);
const y = d3.scaleLinear().domain([-1.273, 0.414]).range([panelH, 0]);
const color = d3.scaleOrdinal().domain(thresholds).range(seriesColors);

const xMinor = d3.pairs(xTicks).map(([a, b]) => (a + b) / 2);
const yMinor = d3.pairs(yTicks).map(([a, b]) => (a + b) / 2);

const fmtY = v => v === 0 ? "0" : (v < 0 ? "\u2212" : "") + Math.abs(v);

const defs = svg.append("defs");
defs.append("clipPath").attr("id", "panel-clip")
  .append("rect").attr("width", panelW).attr("height", panelH);

const line = d3.line()
  .x((d, i) => x(times[i]))
  .y(d => y(d));

facets.forEach(([means, bands], idx) => {
  const r = Math.floor(idx / 4), c = idx % 4;
  const g = svg.append("g").attr("transform", `translate(${colX[c]},${rowY[r]})`);

  g.append("rect").attr("width", panelW).attr("height", panelH).attr("fill", "#ffffff");

  // grid
  const grid = g.append("g");
  grid.selectAll(".ymin").data(yMinor).join("line")
    .attr("x1", 0).attr("x2", panelW).attr("y1", d => y(d)).attr("y2", d => y(d))
    .attr("stroke", "#f2f2f2").attr("stroke-width", 1);
  grid.selectAll(".xmin").data(xMinor).join("line")
    .attr("y1", 0).attr("y2", panelH).attr("x1", d => x(d)).attr("x2", d => x(d))
    .attr("stroke", "#f2f2f2").attr("stroke-width", 1);
  grid.selectAll(".ymaj").data(yTicks).join("line")
    .attr("x1", 0).attr("x2", panelW).attr("y1", d => y(d)).attr("y2", d => y(d))
    .attr("stroke", "#e6e6e6").attr("stroke-width", 1.8);
  grid.selectAll(".xmaj").data(xTicks).join("line")
    .attr("y1", 0).attr("y2", panelH).attr("x1", d => x(d)).attr("x2", d => x(d))
    .attr("stroke", "#e6e6e6").attr("stroke-width", 1.8);

  const plot = g.append("g").attr("clip-path", "url(#panel-clip)");

  // uncertainty ribbons
  means.forEach((m, s) => {
    const area = d3.area()
      .x((d, i) => x(times[i]))
      .y0((d, i) => y(m[i] - bands[s][i]))
      .y1((d, i) => y(m[i] + bands[s][i]));
    plot.append("path").datum(m)
      .attr("d", area)
      .attr("fill", "#8c8c8c")
      .attr("fill-opacity", 0.21);
  });

  // mean lines
  means.forEach((m, s) => {
    plot.append("path").datum(m)
      .attr("d", line)
      .attr("fill", "none")
      .attr("stroke", color(thresholds[s]))
      .attr("stroke-width", 4.8)
      .attr("stroke-opacity", 0.85)
      .attr("stroke-linejoin", "round");
  });

  // panel border
  g.append("rect").attr("width", panelW).attr("height", panelH)
    .attr("fill", "none").attr("stroke", "#888888").attr("stroke-width", 2);

  // y axis on the first column
  if (c === 0) {
    const ax = g.append("g");
    ax.selectAll("line").data(yTicks).join("line")
      .attr("x1", -7).attr("x2", -1).attr("y1", d => y(d)).attr("y2", d => y(d))
      .attr("stroke", "#222222").attr("stroke-width", 2);
    ax.selectAll("text").data(yTicks).join("text")
      .attr("x", -13).attr("y", d => y(d))
      .attr("text-anchor", "end").attr("dominant-baseline", "central")
      .attr("font-size", 18.5).attr("fill", "#4d4d4d")
      .text(fmtY);
  }
  // x axis on the bottom row
  if (r === 3) {
    const ax = g.append("g");
    ax.selectAll("line").data(xTicks).join("line")
      .attr("x1", d => x(d)).attr("x2", d => x(d)).attr("y1", panelH + 1).attr("y2", panelH + 7)
      .attr("stroke", "#222222").attr("stroke-width", 2);
    ax.selectAll("text").data(xTicks).join("text")
      .attr("transform", d => `translate(${x(d)},${panelH + 14}) rotate(-90)`)
      .attr("text-anchor", "end").attr("dominant-baseline", "central")
      .attr("font-size", 19.5).attr("fill", "#4d4d4d")
      .text(d => d);
  }
});

// titles
svg.append("text").attr("x", 557).attr("y", 35)
  .attr("text-anchor", "middle").attr("font-size", 30.5).attr("fill", "#000")
  .text("Linear Gaussian D=10,K=20,N=100");
svg.append("text").attr("x", 571).attr("y", 883)
  .attr("text-anchor", "middle").attr("font-size", 31.5).attr("fill", "#000")
  .text("Time (seconds)");
svg.append("text").attr("transform", "translate(35,429) rotate(-90)")
  .attr("text-anchor", "middle").attr("font-size", 32.5).attr("fill", "#000")
  .text("Relative log density");

// legend
const legend = svg.append("g").attr("transform", "translate(1138,0)");
legend.append("text").attr("x", 0).attr("y", 318)
  .attr("font-size", 21.5).attr("fill", "#000").text("Resample threshold");
const keyTop = 329, keyStep = 47.8, keySize = 42;
thresholds.forEach((t, i) => {
  const k = legend.append("g").attr("transform", `translate(0,${keyTop + i * keyStep})`);
  k.append("rect").attr("width", keySize).attr("height", keySize)
    .attr("fill", "#f2f2f2").attr("stroke", "#d6d6d6").attr("stroke-width", 1);
  k.append("rect").attr("x", 0.5).attr("y", 7).attr("width", keySize - 1).attr("height", keySize - 14)
    .attr("fill", "#e6e6e6");
  k.append("rect").attr("x", 0.5).attr("y", 12).attr("width", keySize - 1).attr("height", keySize - 24)
    .attr("fill", "#d6d6d6");
  k.append("line").attr("x1", 0).attr("x2", keySize).attr("y1", keySize / 2).attr("y2", keySize / 2)
    .attr("stroke", color(t)).attr("stroke-width", 4.5);
  k.append("text").attr("x", keySize + 9).attr("y", keySize / 2)
    .attr("dominant-baseline", "central").attr("font-size", 15.5).attr("fill", "#1a1a1a")
    .text(t);
});
</script>
</body>
</html>
